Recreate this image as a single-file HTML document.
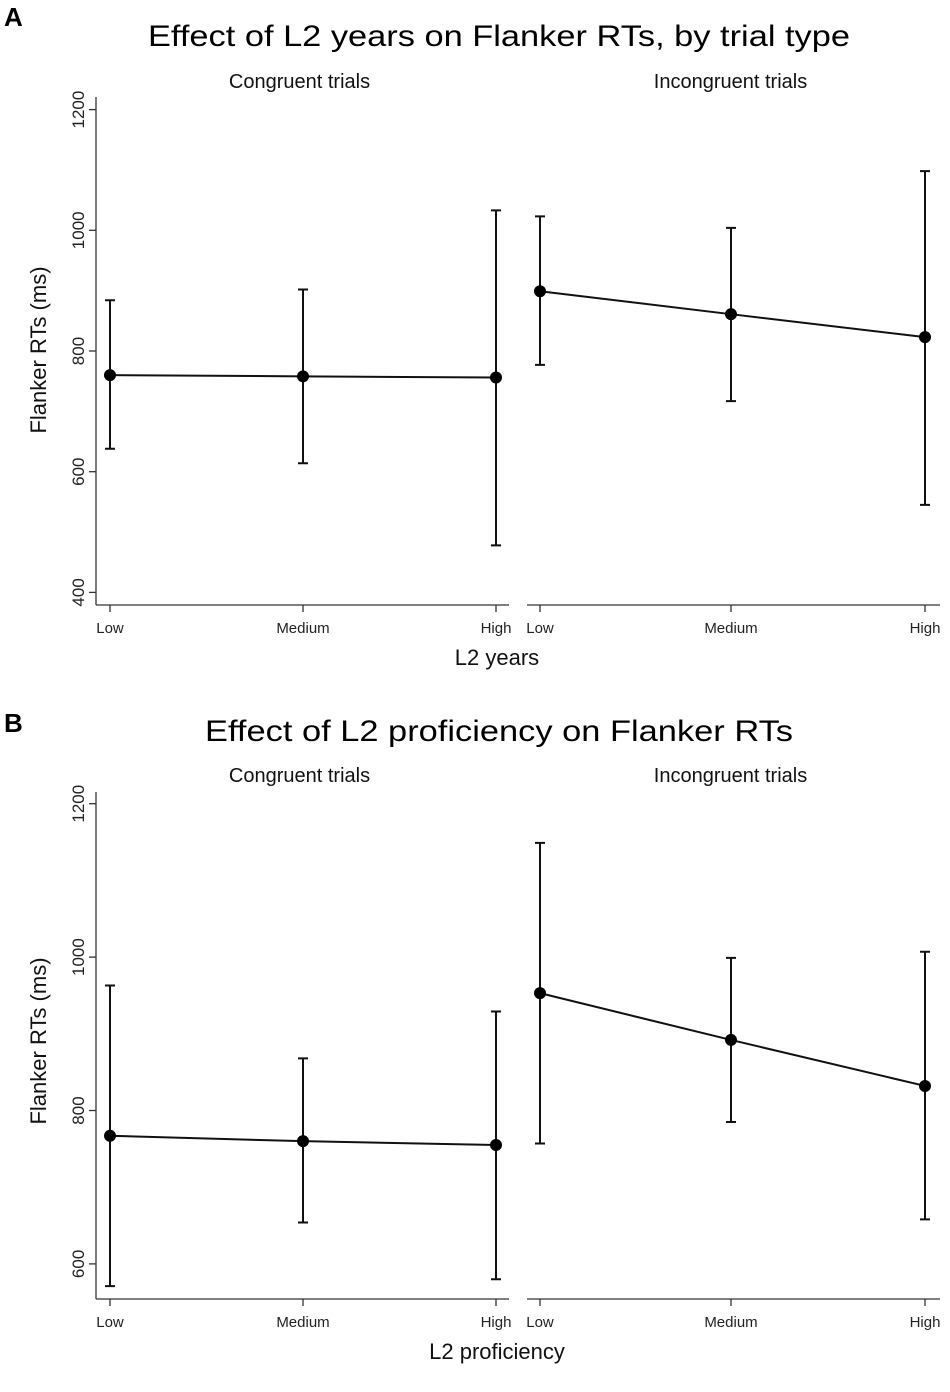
<!DOCTYPE html>
<html><head><meta charset="utf-8"><style>
html,body{margin:0;padding:0;background:#fff}
svg{display:block;font-family:"Liberation Sans",Arial,sans-serif}
</style></head><body>
<svg id="fig" width="950" height="1392" viewBox="0 0 950 1392">
<text x="4" y="26" font-size="26" font-weight="bold">A</text>
<text x="499" y="46" font-size="30" text-anchor="middle" textLength="702" lengthAdjust="spacingAndGlyphs">Effect of L2 years on Flanker RTs, by trial type</text>
<text x="4" y="732" font-size="26" font-weight="bold">B</text>
<text x="499" y="741" font-size="30" text-anchor="middle" textLength="588" lengthAdjust="spacingAndGlyphs">Effect of L2 proficiency on Flanker RTs</text>
<g id="plots"></g>
</svg>
<script>
const categories = ["Low","Medium","High"];
const facets = ["Congruent trials","Incongruent trials"];
// Panel A: L2 years
const aCongMean = [760, 758, 756];
const aCongLo = [638, 614, 478];
const aCongHi = [884, 902, 1033];
const aIncMean = [899, 861, 823];
const aIncLo = [777, 717, 545];
const aIncHi = [1023, 1004, 1098];
const aTicks = [400, 600, 800, 1000, 1200];
// Panel B: L2 proficiency
const bCongMean = [767, 760, 755];
const bCongLo = [571, 654, 580];
const bCongHi = [963, 868, 929];
const bIncMean = [953, 892, 832];
const bIncLo = [757, 785, 658];
const bIncHi = [1149, 999, 1007];
const bTicks = [600, 800, 1000, 1200];

const NS = "http://www.w3.org/2000/svg";
const root = document.getElementById("plots");
function mk(tag, attrs, parent){
  const e = document.createElementNS(NS, tag);
  for (const k in attrs) e.setAttribute(k, attrs[k]);
  (parent||root).appendChild(e);
  return e;
}
const facetX = [[110,303,496],[540,731,925]];
const facetLine = [[96,509],[527,940]];

function panel(id, cfg){
  const g = mk("g", {});
  
  
  const y = v => cfg.y1200 + (1200 - v) / 200 * cfg.per200;
  // y axis
  const ya = mk("line", {x1:96,x2:96,y1:cfg.axTop,y2:cfg.axBot,stroke:"#333","stroke-width":1.3}, g);
  
  
  cfg.ticks.forEach(t => {
    const ty = y(t);
    mk("line",{x1:89,x2:96,y1:ty,y2:ty,stroke:"#333","stroke-width":1.3},g);
    const tl = mk("text",{x:0,y:0,"font-size":17,"text-anchor":"middle",fill:"#222",
      transform:`translate(84,${ty}) rotate(-90)`},g);
    tl.textContent = t;
    
    
  });
  const yt = mk("text",{x:0,y:0,"font-size":22,"text-anchor":"middle",fill:"#111",
    transform:`translate(46,${cfg.yTitleY}) rotate(-90)`},g);
  yt.textContent = "Flanker RTs (ms)";
  
  
  const series = [[cfg.cm,cfg.cl,cfg.ch],[cfg.im,cfg.il,cfg.ih]];
  facets.forEach((f, fi) => {
    const xs = facetX[fi];
    const st = mk("text",{x:(facetLine[fi][0]+facetLine[fi][1])/2 + (fi?-3:-3),y:cfg.subY,"font-size":20,"text-anchor":"middle",fill:"#111"},g);
    st.textContent = f;
    
    
    const xa = mk("line",{x1:facetLine[fi][0],x2:facetLine[fi][1],y1:cfg.axBot,y2:cfg.axBot,stroke:"#333","stroke-width":1.3},g);
    
    
    categories.forEach((c, ci) => {
      mk("line",{x1:xs[ci],x2:xs[ci],y1:cfg.axBot,y2:cfg.axBot+7,stroke:"#333","stroke-width":1.3},g);
      const tl = mk("text",{x:xs[ci],y:cfg.axBot+28,"font-size":15,"text-anchor":"middle",fill:"#222"},g);
      tl.textContent = c;
      
      
    });
    const [m, lo, hi] = series[fi];
    const pts = m.map((v,i)=>xs[i]+","+y(v)).join(" ");
    const pl = mk("polyline",{points:pts,fill:"none",stroke:"#111","stroke-width":2},g);
    
    
    m.forEach((v,i) => {
      const x = xs[i];
      const eb = mk("path",{d:`M${x},${y(lo[i])}V${y(hi[i])}M${x-5},${y(lo[i])}H${x+5}M${x-5},${y(hi[i])}H${x+5}`,stroke:"#111","stroke-width":2,fill:"none"},g);
      
      
      const p = mk("circle",{cx:x,cy:y(v),r:6,fill:"#000"},g);
      
      
    });
  });
  const xt = mk("text",{x:497,y:cfg.axBot+60,"font-size":22,"text-anchor":"middle",fill:"#111"},g);
  xt.textContent = cfg.xTitle;
  
  
}
panel("panel-a",{y1200:109.6,per200:120.7,axTop:97,axBot:605,ticks:aTicks,yTitleY:350,subY:88,
  cm:aCongMean,cl:aCongLo,ch:aCongHi,im:aIncMean,il:aIncLo,ih:aIncHi,xTitle:"L2 years"});
panel("panel-b",{y1200:803.7,per200:153.4,axTop:792,axBot:1299,ticks:bTicks,yTitleY:1041,subY:782,
  cm:bCongMean,cl:bCongLo,ch:bCongHi,im:bIncMean,il:bIncLo,ih:bIncHi,xTitle:"L2 proficiency"});
</script>
</body></html>
